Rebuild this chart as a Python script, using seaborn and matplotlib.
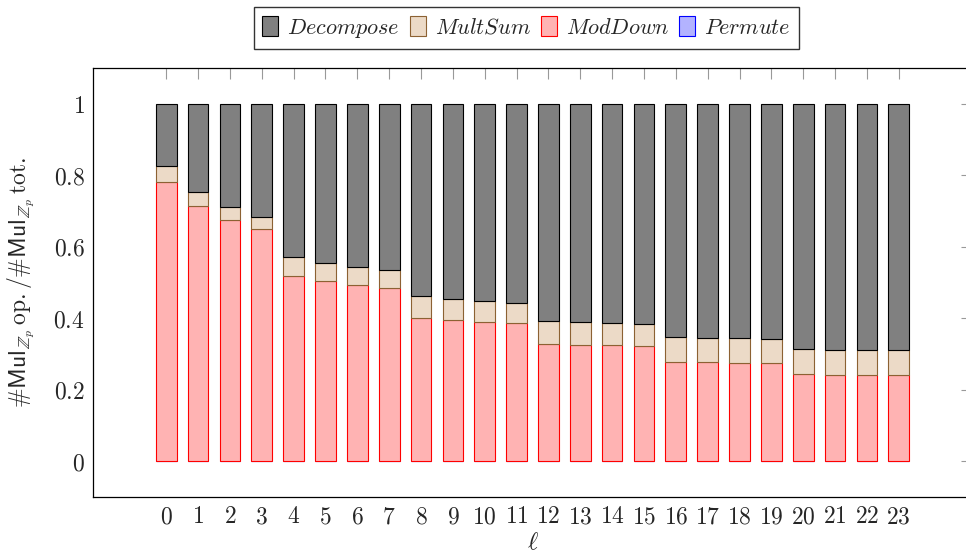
import matplotlib
matplotlib.use("Agg")
import matplotlib.pyplot as plt
import seaborn as sns
import pandas as pd

# Level index ℓ
levels = list(range(24))

# Fraction of Z_p multiplications spent in each step (per level)
permute = [0.001] * 24
mod_down = [0.781, 0.714, 0.675, 0.650, 0.516, 0.502, 0.492, 0.484,
            0.399, 0.394, 0.389, 0.385, 0.328, 0.325, 0.323, 0.321,
            0.278, 0.276, 0.275, 0.274, 0.242, 0.241, 0.240, 0.239]
mult_sum = [0.044, 0.039, 0.036, 0.033, 0.054, 0.052, 0.050, 0.049,
            0.061, 0.059, 0.059, 0.058, 0.064, 0.064, 0.063, 0.062,
            0.068, 0.068, 0.068, 0.067, 0.071, 0.070, 0.070, 0.070]
decompose = [1.0 - p - m - s for p, m, s in zip(permute, mod_down, mult_sum)]

y_ticks = [0, 0.2, 0.4, 0.6, 0.8, 1]

df = pd.DataFrame({
    "level": levels,
    "Permute": permute,
    "ModDown": mod_down,
    "MultSum": mult_sum,
    "Decompose": decompose,
})

sns.set_theme(style="white")
plt.rcParams["mathtext.fontset"] = "cm"
plt.rcParams["font.family"] = ["DejaVu Serif"]

fig = plt.figure(figsize=(9.66, 5.59), dpi=100)
ax = fig.add_axes([93 / 966, 1 - 497 / 559, (972 - 93) / 966, (497 - 68) / 559])

styles = {
    "Permute": ((0.7, 0.7, 1.0), "blue"),
    "ModDown": ((1.0, 0.7, 0.7), "red"),
    "MultSum": ((0.925, 0.855, 0.78), (0.55, 0.38, 0.2)),
    "Decompose": ((0.5, 0.5, 0.5), "black"),
}

bottom = [0.0] * len(levels)
handles = {}
for name in ["Permute", "ModDown", "MultSum", "Decompose"]:
    fill, edge = styles[name]
    sns.barplot(data=df, x="level", y=name, ax=ax, color=fill,
                edgecolor=edge, linewidth=0.8, width=0.65,
                saturation=1, bottom=bottom, label=f"${name}$")
    handles[name] = ax.containers[-1]
    bottom = [b + v for b, v in zip(bottom, df[name])]

ax.set_xlim(-2.3, 25.3)
ax.set_ylim(-0.1, 1.1)
ax.set_yticks(y_ticks)
ax.set_yticklabels([f"${t:g}$" for t in y_ticks], fontsize=17)
ax.set_xticks(levels)
ax.set_xticklabels([f"${l}$" for l in levels], fontsize=17)
ax.tick_params(axis="both", direction="in", length=8, width=0.8,
               color="0.6", top=True, right=True, pad=6)
for sp in ax.spines.values():
    sp.set_color("black")
    sp.set_linewidth(0.9)

ax.set_xlabel(r"$\ell$", fontsize=18, labelpad=2)
ax.set_ylabel(r"$\#\mathsf{Mul}_{\mathbb{Z}_p}\,\mathrm{op.}/\#\mathsf{Mul}_{\mathbb{Z}_p}\,\mathrm{tot.}$",
              fontsize=17, labelpad=12)

order = ["Decompose", "MultSum", "ModDown", "Permute"]
leg = ax.legend([handles[n] for n in order], [f"${n}$" for n in order],
                loc="lower center", bbox_to_anchor=(0.5 - 6 / 879, 1.045),
                ncol=4, fontsize=16, frameon=True, fancybox=False,
                edgecolor="black", handlelength=0.72, handleheight=1.0,
                handletextpad=0.4, columnspacing=0.45, borderpad=0.4,
                borderaxespad=0)
leg.get_frame().set_linewidth(1.0)

fig.savefig("out.png", dpi=100)
